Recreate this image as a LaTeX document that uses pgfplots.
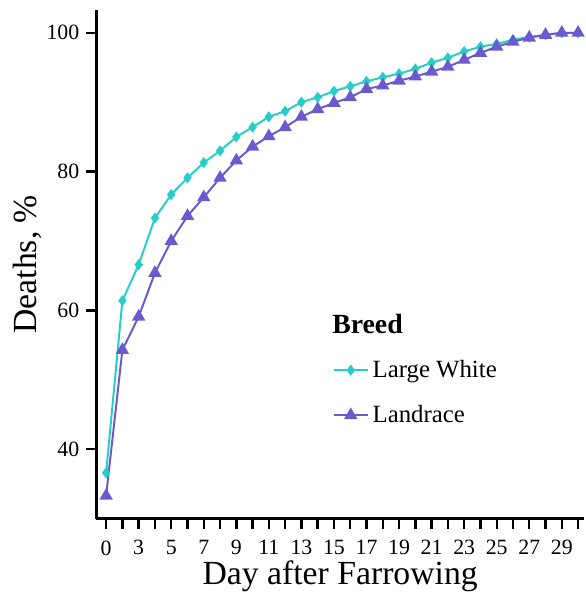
\documentclass[border=0pt]{standalone}
\usepackage{fontspec}
\setmainfont{Liberation Serif}
\usepackage{pgfplots}
\pgfplotsset{compat=1.18}
\definecolor{lwhite}{RGB}{40,205,200}
\definecolor{landr}{RGB}{106,90,205}

% day index 0..29 (labels every other tick)
\pgfplotstableread{
idx lw ld
0  36.6 33.3
1  61.4 54.3
2  66.6 59.1
3  73.3 65.4
4  76.7 70.0
5  79.1 73.6
6  81.3 76.3
7  83.0 79.1
8  85.0 81.6
9  86.4 83.6
10 87.9 85.1
11 88.7 86.4
12 90.0 87.9
13 90.7 89.0
14 91.6 89.9
15 92.3 90.7
16 93.0 91.9
17 93.6 92.4
18 94.1 93.1
19 94.8 93.7
20 95.7 94.4
21 96.4 95.1
22 97.3 96.1
23 98.0 97.1
24 98.4 98.0
25 99.0 98.7
26 99.4 99.3
27 99.7 99.7
28 100.0 100.0
29 100.0 100.0
}\deaths

\begin{document}
\begin{tikzpicture}
\begin{axis}[
    scale only axis,
    width=246pt, height=256.5pt,
    xmin=-0.61, xmax=29.37,
    ymin=30, ymax=103.3,
    axis lines*=left,
    axis line style={line width=1.5pt, -},
    tick align=outside,
    major tick length=5pt,
    tick style={line width=1.2pt, black},
    xtick={0,...,29},
    xticklabels={0,,3,,5,,7,,9,,11,,13,,15,,17,,19,,21,,23,,25,,27,,29,},
    ytick={40,60,80,100},
    /pgf/number format/assume math mode=true,
    ticklabel style={font=\fontsize{11}{13}\selectfont},
    xticklabel style={yshift=-2.5pt},
    xlabel={Day after Farrowing},
    ylabel={Deaths, \%},
    label style={font=\fontsize{17}{20}\selectfont},
    xlabel style={at={(axis description cs:0.5,-0.1287)}, anchor=base},
    ylabel style={at={(axis description cs:-0.142,0.5)}, anchor=center},
    legend style={draw=none, fill=none, at={(0.472,0.328)}, anchor=north west,
        font=\fontsize{12.5}{15}\selectfont, row sep=8.5pt},
    legend cell align=left,
]
\addplot[lwhite, line width=1pt, mark=diamond*, mark size=2pt] table[x=idx, y=lw] {\deaths};
\addlegendentry{Large White}
\addplot[landr, line width=1pt, mark=triangle*, mark size=2.9pt] table[x=idx, y=ld] {\deaths};
\addlegendentry{Landrace}
\node[anchor=base west, font=\fontsize{14}{17}\selectfont\bfseries] at (axis description cs:0.4695,0.3645) {Breed};
\end{axis}
\path (current axis.north west) ++(0,5pt);
\path (current axis.west) ++(-48.5pt,0);
\end{tikzpicture}
\end{document}
